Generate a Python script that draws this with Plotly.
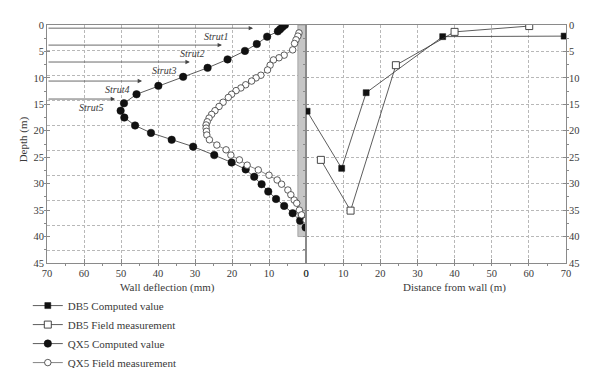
import plotly.graph_objects as go

# ---------------- data ----------------
# QX5 (left panel): wall deflection (mm) vs depth (m)
qx5_comp_depth = [0.0, 0.4, 0.8, 1.2, 2.2, 3.6, 4.9, 6.5, 8.1, 9.8, 11.5, 13.1, 14.8, 16.2, 17.5,
                  19.0, 20.4, 21.7, 23.0, 24.6, 26.0, 27.3, 28.7, 30.1, 31.5, 32.9, 34.2, 35.6, 37.0, 38.3]
qx5_comp_defl = [5.7, 6.4, 7.0, 7.6, 10.5, 13.3, 16.5, 21.2, 26.6, 33.2, 39.9, 45.8, 49.2, 50.1, 49.1,
                 46.2, 41.9, 36.3, 30.5, 24.8, 20.1, 16.3, 14.0, 12.0, 10.2, 8.1, 5.9, 3.6, 1.6, 0.1]

qx5_field_depth = [1.5, 2.1, 2.8, 3.5, 4.7, 5.7, 6.2, 6.6, 7.6, 8.5, 9.5, 10.0, 10.6, 11.3, 11.9, 12.4,
                   13.1, 13.7, 14.6, 15.4, 16.2, 16.9, 17.6, 18.3, 18.9, 19.5, 20.1, 20.8, 21.7, 22.7,
                   23.6, 24.6, 25.5, 26.5, 27.4, 28.4, 29.3, 30.1, 31.2, 32.1, 33.1, 33.7, 35.0, 35.9, 36.9]
qx5_field_defl = [1.9, 2.2, 2.7, 3.1, 3.6, 5.9, 7.3, 8.8, 9.7, 10.4, 12.2, 13.5, 14.7, 16.3, 17.6, 18.9,
                  20.1, 21.0, 22.4, 23.5, 24.6, 25.5, 26.2, 26.7, 27.0, 27.0, 26.9, 26.8, 26.1, 24.1,
                  21.6, 20.3, 18.0, 15.9, 12.9, 10.0, 7.8, 6.6, 4.9, 4.1, 3.2, 2.5, 1.8, 1.2, 0.0]

# DB5 (right panel): distance from wall (m) vs depth (m)
db5_comp_dist = [0.3, 9.6, 16.2, 36.8, 69.5]
db5_comp_depth = [16.3, 27.1, 12.8, 2.2, 2.1]
db5_field_dist = [4.0, 12.0, 24.2, 40.0, 60.1]
db5_field_depth = [25.5, 35.1, 7.6, 1.3, 0.2]

# Struts
strut_names = ["Strut1", "Strut2", "Strut3", "Strut4", "Strut5"]
strut_depth = [0.6, 3.8, 7.0, 10.6, 14.0]
strut_tip = [14.3, 22.7, 31.4, 44.3, 51.6]
strut_label_x = [24.2, 30.9, 38.4, 51.1, 58.0]

# Wall
wall_depth = 40
wall_width = 2.2

# axis tick labels
depth_ticks = [0, 5, 10, 15, 20, 25, 30, 35, 40, 45]
defl_ticks = [70, 60, 50, 40, 30, 20, 10, 0]
dist_ticks = [0, 10, 20, 30, 40, 50, 60, 70]

# ---------------- styles ----------------
FONT = "Liberation Serif"
TXT = "#3a3a3a"
AX = "#8a8a8a"
GRID = "#b8b8b8"
LINE = "#333333"
MK = "#111111"

fig = go.Figure()

# wall
fig.add_trace(go.Scatter(
    x=[0, wall_width, wall_width, 0, 0], y=[0, 0, wall_depth, wall_depth, 0],
    mode="lines", fill="toself", fillcolor="#c6c6c6",
    line=dict(color="#9a9a9a", width=0.8), xaxis="x", yaxis="y",
    showlegend=False, hoverinfo="skip"))

fig.add_trace(go.Scatter(
    x=db5_comp_dist, y=db5_comp_depth, name="DB5 Computed value",
    mode="lines+markers", xaxis="x2", yaxis="y2",
    line=dict(color=LINE, width=0.8),
    marker=dict(symbol="square", size=6, color=MK, line=dict(color=MK, width=0.5))))

fig.add_trace(go.Scatter(
    x=db5_field_dist, y=db5_field_depth, name="DB5 Field measurement",
    mode="lines+markers", xaxis="x2", yaxis="y2",
    line=dict(color=LINE, width=0.8),
    marker=dict(symbol="square", size=7, color="white", line=dict(color=LINE, width=0.9))))

fig.add_trace(go.Scatter(
    x=qx5_comp_defl, y=qx5_comp_depth, name="QX5 Computed value",
    mode="lines+markers", xaxis="x", yaxis="y",
    line=dict(color=LINE, width=0.8),
    marker=dict(symbol="circle", size=7.5, color=MK, line=dict(color=MK, width=0.5))))

fig.add_trace(go.Scatter(
    x=qx5_field_defl, y=qx5_field_depth, name="QX5 Field measurement",
    mode="lines+markers", xaxis="x", yaxis="y",
    line=dict(color=LINE, width=0.6),
    marker=dict(symbol="circle", size=6.5, color="white", line=dict(color=LINE, width=0.8))))

# empty trace so the left-panel grid axis is drawn
fig.add_trace(go.Scatter(x=[], y=[], xaxis="x", yaxis="y3", showlegend=False, hoverinfo="skip"))

# strut arrows and labels
for name, d, tip, lx in zip(strut_names, strut_depth, strut_tip, strut_label_x):
    fig.add_annotation(x=tip, y=d, ax=70, ay=d, xref="x", yref="y", axref="x", ayref="y",
                       text="", showarrow=True, arrowhead=2, arrowsize=1.1, arrowwidth=0.8,
                       arrowcolor="#444444", standoff=0, startstandoff=0)
    fig.add_annotation(x=lx, y=d, xref="x", yref="y", text="<i>" + name + "</i>",
                       showarrow=False, yshift=-8,
                       font=dict(family=FONT, size=10, color=TXT))

# axis titles
title_font = dict(family=FONT, size=11, color=TXT)
fig.add_annotation(x=-0.046, y=0.52, xref="paper", yref="paper", text="Depth (m)",
                   xanchor="center", yanchor="middle",
                   textangle=-90, showarrow=False, font=title_font)
fig.add_annotation(x=0.233, y=-0.102, xref="paper", yref="paper", text="Wall deflection (mm)",
                   xanchor="center", yanchor="middle", showarrow=False, font=title_font)
fig.add_annotation(x=0.786, y=-0.104, xref="paper", yref="paper", text="Distance from wall (m)",
                   xanchor="center", yanchor="middle", showarrow=False, font=title_font)

split = 259 / 519
common_x = dict(showline=True, linecolor=AX, linewidth=1, mirror=True, zeroline=False,
                showgrid=True, gridcolor=GRID, gridwidth=0.8, griddash="3px,2px",
                ticks="inside", ticklen=4, tickcolor=AX, tickwidth=1,
                minor=dict(dtick=5, ticklen=2, tickcolor=AX, showgrid=False),
                tickfont=dict(family=FONT, size=10.5, color=TXT), fixedrange=True)

fig.update_layout(
    width=600, height=368,
    margin=dict(l=47, r=34, t=25, b=105, autoexpand=False),
    paper_bgcolor="white", plot_bgcolor="white",
    xaxis=dict(common_x, domain=[0, split], range=[70, 0], anchor="y",
               tickvals=defl_ticks),
    xaxis2=dict(common_x, domain=[split, 1], range=[0, 70], anchor="y2",
                tickvals=dist_ticks),
    yaxis=dict(range=[45, 0], anchor="x", side="left", showline=True, linecolor=AX,
               linewidth=1, mirror=True, zeroline=False, showgrid=False,
               tickvals=depth_ticks, ticks="inside", ticklen=3, tickcolor=AX,
               minor=dict(dtick=2.5, ticklen=2, tickcolor=AX, showgrid=False),
               tickfont=dict(family=FONT, size=10.5, color=TXT)),
    yaxis2=dict(range=[45, 0], anchor="x2", side="right", showline=True, linecolor=AX,
                linewidth=1, mirror="ticks", zeroline=False, showgrid=True,
                gridcolor=GRID, gridwidth=0.8, griddash="3px,2px",
                tickvals=depth_ticks, ticks="inside", ticklen=3, tickcolor=AX,
                minor=dict(dtick=2.5, ticklen=2, tickcolor=AX, showgrid=False),
                tickfont=dict(family=FONT, size=10.5, color=TXT)),
    yaxis3=dict(overlaying="y", anchor="x", range=[47.6, 0], showgrid=True,
                gridcolor=GRID, gridwidth=0.8, griddash="3px,2px", dtick=5,
                showticklabels=False, ticks="", showline=False, zeroline=False),
    legend=dict(x=-0.037, y=-0.118, xanchor="left", yanchor="top",
                font=dict(family=FONT, size=11, color=TXT),
                bgcolor="rgba(0,0,0,0)", borderwidth=0, tracegroupgap=0),
    showlegend=True,
)

fig.write_html("out.html", config={"displayModeBar": False},
               post_script="document.body.style.margin='0';document.body.style.overflow='hidden';")
